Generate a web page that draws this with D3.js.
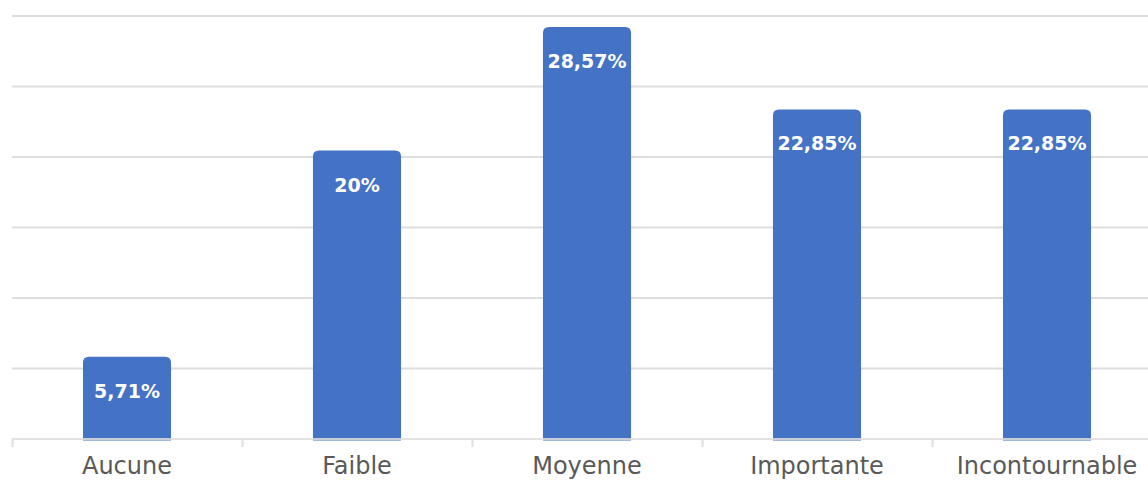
<!DOCTYPE html>
<html><head><meta charset="utf-8">
<script src="https://cdn.jsdelivr.net/npm/d3@7"></script>
<style>html,body{margin:0;padding:0;background:#fff;overflow:hidden}</style>
</head><body>
<svg id="chart" width="1148" height="480"></svg>
<script>
const categories = ["Aucune", "Faible", "Moyenne", "Importante", "Incontournable"];
const values = [5.71, 20, 28.57, 22.85, 22.85];
const valueLabels = ["5,71%", "20%", "28,57%", "22,85%", "22,85%"];
const yMax = 29.33;
const gridCount = 6;

const svg = d3.select("#chart");
const leftX = 12, baseY = 439, topY = 16, bandW = 230;
const x = d3.scaleBand().domain(categories).range([leftX, leftX + bandW * categories.length]).paddingInner(0.617).paddingOuter(0.3085);
const xTicks = d3.scaleBand().domain(categories).range([leftX, leftX + bandW * categories.length]);
const y = d3.scaleLinear().domain([0, yMax]).range([baseY, topY]);
const gridVals = d3.range(1, gridCount + 1).map(i => yMax * i / gridCount);

// gridlines
svg.append("g").selectAll("line").data(gridVals).join("line")
  .attr("x1", leftX).attr("x2", 1148)
  .attr("y1", d => y(d)).attr("y2", d => y(d))
  .attr("stroke", "#dedede").attr("stroke-width", 2);

// bars with rounded top
const r = 6;
function barPath(d, i) {
  const x0 = x(categories[i]), w = x.bandwidth(), y0 = y(d), yb = baseY + 1.5;
  return `M${x0},${yb}V${y0 + r}Q${x0},${y0} ${x0 + r},${y0}H${x0 + w - r}Q${x0 + w},${y0} ${x0 + w},${y0 + r}V${yb}Z`;
}
svg.append("g").selectAll("path").data(values).join("path")
  .attr("d", barPath).attr("fill", "#4472c4");

// x axis baseline and ticks
svg.append("line").attr("x1", leftX).attr("x2", 1148).attr("y1", baseY).attr("y2", baseY)
  .attr("stroke", "#dedede").attr("stroke-width", 2).attr("opacity", 0.85);
svg.append("g").selectAll("line").data(categories).join("line")
  .attr("x1", d => xTicks(d) + 0.5).attr("x2", d => xTicks(d) + 0.5)
  .attr("y1", baseY).attr("y2", baseY + 8)
  .attr("stroke", "#dedede").attr("stroke-width", 2);

// category labels
svg.append("g").selectAll("text").data(categories).join("text")
  .attr("x", d => x(d) + x.bandwidth() / 2).attr("y", 474)
  .attr("text-anchor", "middle")
  .attr("font-family", "DejaVu Sans, sans-serif").attr("font-size", 24)
  .attr("fill", "#595959").text(d => d);

// value labels
svg.append("g").selectAll("text").data(values).join("text")
  .attr("x", (d, i) => x(categories[i]) + x.bandwidth() / 2)
  .attr("y", d => y(d) + 41)
  .attr("text-anchor", "middle")
  .attr("font-family", "DejaVu Sans, sans-serif").attr("font-weight", "bold").attr("font-size", 19)
  .attr("fill", "#fff").text((d, i) => valueLabels[i]);
</script>
</body></html>
